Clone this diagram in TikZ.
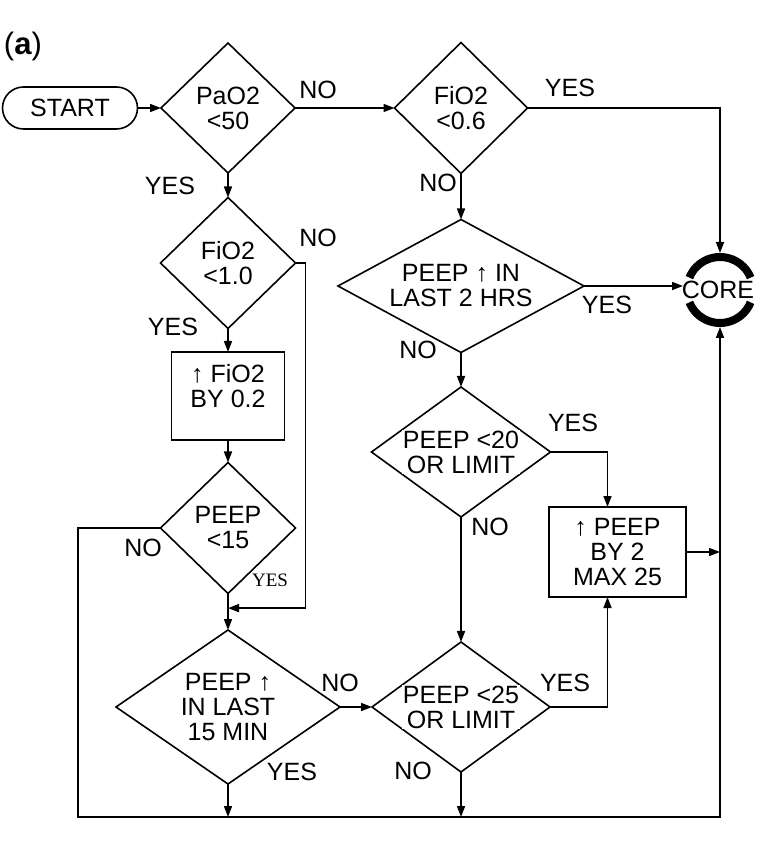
\documentclass[tikz,border=0pt]{standalone}
\usepackage{fontspec}
\setmainfont{Liberation Sans}
\newfontfamily\yesfont{Liberation Serif}
\usepackage{tikz}
\usetikzlibrary{arrows.meta,positioning,calc,shapes.geometric}

\begin{document}
\begin{tikzpicture}[x=0.5pt, y=-0.5pt, line width=0.8pt,
    dec/.style={diamond, draw, inner sep=0pt, outer sep=0pt},
    txt/.style={align=center, font=\fontsize{12.5}{12.5}\selectfont, inner sep=0.5pt, fill=white},
    lbl/.style={font=\fontsize{12.5}{12.5}\selectfont, inner sep=0pt},
    arr/.style={-{Triangle[length=5.5pt,width=4pt]}}]
    \useasboundingbox (0,0) rectangle (760,865);

    % panel letter
    \node[inner sep=0pt, font=\fontsize{15.5}{16}\selectfont] (panel) at (23,46) {(\textbf{a})};

    % left column
    \node[draw, rounded corners=10.5pt, minimum width=67.5pt, minimum height=21pt, txt] (start) at (70,108) {START};
    \node[dec, minimum width=67pt, minimum height=65pt] (pao) at (228,108) {};
    \node[txt] (paot) at (pao) {PaO2\\<50};
    \node[dec, minimum width=67.5pt, minimum height=65.5pt] (fio1) at (228,263) {};
    \node[txt] (fio1t) at (fio1) {FiO2\\<1.0};
    \node[draw, inner sep=0pt, outer sep=0pt, minimum width=56.5pt, minimum height=44pt] (fbox) at (228,396) {};
    \node[txt] (fboxt) at ([yshift=5pt]fbox.center) {↑ FiO2\\BY 0.2};
    \node[dec, minimum width=67.5pt, minimum height=65.5pt] (p15) at (228,528) {};
    \node[txt] (p15t) at (p15) {PEEP\\<15};
    \node[dec, minimum width=112pt, minimum height=77pt] (m15) at (228,707) {};
    \node[txt] (m15t) at (m15) {PEEP ↑\\IN LAST\\15 MIN};

    % right column
    \node[dec, minimum width=66.5pt, minimum height=65.5pt] (fio6) at (461,108) {};
    \node[txt] (fio6t) at (fio6) {FiO2\\<0.6};
    \node[dec, minimum width=123pt, minimum height=66.5pt] (p2h) at (461,286) {};
    \node[txt] (p2ht) at (p2h) {PEEP ↑ IN\\LAST 2 HRS};
    \node[dec, minimum width=89.5pt, minimum height=65pt] (p20) at (461,452) {};
    \node[txt] (p20t) at (p20) {PEEP <20\\OR LIMIT};
    \node[dec, minimum width=89pt, minimum height=65pt] (p25) at (461,707) {};
    \node[txt] (p25t) at (p25) {PEEP <25\\OR LIMIT};
    \node[draw, inner sep=0pt, outer sep=0pt, minimum width=68.5pt, minimum height=45pt] (pbox) at (617.5,552) {};
    \node[txt, fill=none] (pboxt) at (pbox) {↑ PEEP\\BY 2\\MAX 25};

    % core
    \node[circle, minimum size=37pt, inner sep=0pt, outer sep=0pt] (core) at (720,290) {};
    \draw[line width=4pt] ([shift={(22:33)}]core.center) arc[start angle=22, end angle=158, radius=33];
    \draw[line width=4pt] ([shift={(202:33)}]core.center) arc[start angle=202, end angle=338, radius=33];
    \node[lbl] (coret) at ([xshift=-1pt]core.center) {CORE};

    % bottom line
    \coordinate (bl) at (78,817);
    \coordinate (br) at (720,817);

    % connectors
    \draw[arr] (start) -- (pao);
    \draw[arr] (pao) -- (fio6);
    \draw[arr] (fio6.east) -| (core.north);
    \draw[arr] (fio6) -- (p2h);
    \draw[arr] (p2h.east) -- (p2h.east -| core.west);
    \draw[arr] (p2h) -- (p20);
    \draw[arr] (p20.east) -| ([xshift=-5pt]pbox.north);
    \draw[arr] (p20) -- (p25);
    \draw[arr] (p25.east) -| ([xshift=-5pt]pbox.south);
    \draw[arr] (pbox.east) -- (pbox.east -| core.south);
    \draw[arr] (pao) -- (fio1);
    \draw[arr] (fio1) -- (fbox);
    \draw[arr] (fbox) -- (p15);
    \draw[arr] (p15) -- (m15);
    \draw[arr] (fio1.east) -- ++(10,0) |- ($(p15.south)!0.4!(m15.north)$);
    \draw[arr] (m15) -- (p25);
    \draw[arr] (p15.west) -| (bl) -- (br) -- (core.south);
    \draw[arr] (m15.south) -- (m15.south |- bl);
    \draw[arr] (p25.south) -- (p25.south |- bl);

    % branch labels
    \node[lbl] (n1) at (318,90) {NO};
    \node[lbl] (y1) at (570,88) {YES};
    \node[lbl] (n2) at (438,183) {NO};
    \node[lbl] (y2) at (170,186) {YES};
    \node[lbl] (n3) at (318,238) {NO};
    \node[lbl] (y3) at (173,327) {YES};
    \node[lbl] (n4) at (143,548) {NO};
    \node[inner sep=0pt, font=\yesfont\fontsize{9.5}{10}\selectfont] (y4) at (270,580) {YES};
    \node[lbl] (n5) at (340,683) {NO};
    \node[lbl] (y5) at (292,772) {YES};
    \node[lbl] (y6) at (607,305) {YES};
    \node[lbl] (n6) at (418,350) {NO};
    \node[lbl] (y7) at (573,423) {YES};
    \node[lbl] (n7) at (490,527) {NO};
    \node[lbl] (y8) at (565,683) {YES};
    \node[lbl] (n8) at (413,771) {NO};
\end{tikzpicture}
\end{document}
